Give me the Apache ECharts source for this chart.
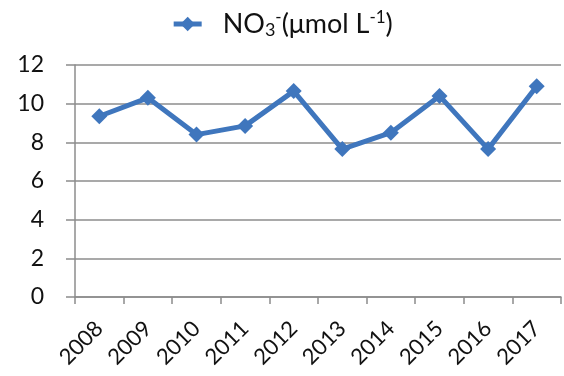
<!DOCTYPE html>
<html>
<head>
<meta charset="utf-8">
<script src="https://cdn.jsdelivr.net/npm/echarts@6/dist/echarts.min.js"></script>
<style>html,body{margin:0;padding:0;background:#fff}#c{width:564px;height:376px}</style>
</head>
<body>
<div id="c"></div>
<script>
// Annual nitrate concentration, 2008–2017
const years = ['2008', '2009', '2010', '2011', '2012', '2013', '2014', '2015', '2016', '2017'];
const nitrate = [9.35, 10.3, 8.4, 8.85, 10.65, 7.65, 8.5, 10.4, 7.65, 10.9];
const yTicks = { min: 0, max: 12, step: 2 };
const seriesName = 'NO3';

const FONT = 'Lato, "Open Sans", sans-serif';
const BLUE = '#3f76bd';
const GRID = '#8c8c8c';
const INK = '#111';

const chart = echarts.init(document.getElementById('c'), null, { renderer: 'canvas' });
chart.setOption({
  animation: false,
  backgroundColor: '#fff',
  legend: {
    top: 4,
    left: 'center',
    itemWidth: 28,
    itemHeight: 18,
    lineStyle: { width: 5, color: BLUE },
    data: [seriesName],
    formatter: () => '{gap|}{t|NO}{sub|3}{sup|-}{t|(\u03bcmol L}{sup|-1}{t|)}',
    textStyle: {
      fontFamily: FONT,
      color: INK,
      rich: {
        gap: { width: 16 },
        t: { fontSize: 27, fontFamily: FONT, color: INK },
        sub: { fontSize: 18, fontFamily: FONT, color: INK, verticalAlign: 'bottom', padding: [12, 0, 0, 0] },
        sup: { fontSize: 17, fontFamily: FONT, color: INK, verticalAlign: 'top', padding: [0, 0, 12, 0] }
      }
    }
  },
  grid: { left: 75, right: 3, top: 65, bottom: 79, containLabel: false },
  xAxis: {
    type: 'category',
    data: years,
    boundaryGap: true,
    axisLine: { lineStyle: { color: GRID, width: 1.5 } },
    axisTick: { show: true, alignWithLabel: false, length: 7, lineStyle: { color: GRID, width: 1.5 } },
    axisLabel: { rotate: 45, margin: 28, fontSize: 22, fontFamily: FONT, color: INK }
  },
  yAxis: {
    type: 'value',
    min: yTicks.min,
    max: yTicks.max,
    interval: yTicks.step,
    axisLine: { show: true, lineStyle: { color: GRID, width: 1.5 } },
    axisTick: { show: true, length: 9, lineStyle: { color: GRID, width: 1.5 } },
    splitLine: { lineStyle: { color: GRID, width: 1.5 } },
    axisLabel: { margin: 31, fontSize: 23, fontFamily: FONT, color: INK }
  },
  series: [{
    name: seriesName,
    type: 'line',
    data: nitrate,
    symbol: 'diamond',
    symbolSize: 16,
    lineStyle: { color: BLUE, width: 5 },
    itemStyle: { color: BLUE }
  }]
});
</script>
</body>
</html>
